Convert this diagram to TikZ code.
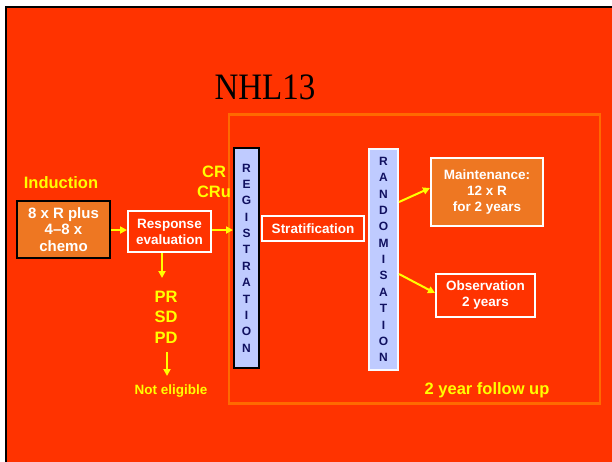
\documentclass[tikz,border=0pt]{standalone}
\usepackage{fontspec}
\setmainfont{Liberation Sans}
\newfontfamily\titlefont{Liberation Serif}
\usetikzlibrary{arrows.meta}
\definecolor{bgred}{HTML}{FF3300}
\definecolor{fuorange}{HTML}{FF6A00}
\definecolor{boxorange}{HTML}{EE7722}
\definecolor{yel}{HTML}{FFFF00}
\definecolor{barblue}{HTML}{BFCBFF}
\definecolor{navy}{HTML}{101060}
\tikzset{
  wbox/.style={draw=white, line width=2pt, text=white, font=\bfseries\fontsize{13.5}{16}\selectfont, align=center, inner sep=0pt},
  ylabel/.style={text=yel, font=\bfseries\fontsize{16.5}{20.5}\selectfont, align=center, inner sep=0pt},
  yarrow/.style={draw=yel, line width=2pt, -{Triangle[length=7pt,width=7pt]}},
  bar/.style={fill=barblue, line width=2pt, text=navy, font=\bfseries\fontsize{12}{16.35}\selectfont, align=center, inner sep=0pt, minimum width=25pt},
}
\begin{document}
\begin{tikzpicture}[x=1pt,y=-1pt]
\useasboundingbox (0,0) rectangle (612,461);
\clip (0,0) rectangle (612,461);
\fill[white] (0,0) rectangle (612,461);
\fill[bgred] (6,7) rectangle (620,470);
\draw[black, line width=2pt] (6,470) -- (6,7) -- (620,7);
% title
\node (title) at (265,87) {\titlefont\fontsize{33}{36}\selectfont\scalebox{1}[1.13]{NHL13}};
% follow-up box
\node[draw=fuorange, line width=2.5pt, minimum width=371pt, minimum height=289pt, inner sep=0pt] (fu) at (414.5,259) {};
\node[ylabel] (fulabel) at (487,390) {2 year follow up};
% induction
\node[ylabel] (indlabel) at (61,183) {Induction};
\node[draw=black, fill=boxorange, line width=2pt, text=white, font=\bfseries\fontsize{15}{16.8}\selectfont, align=center, minimum width=93pt, minimum height=57pt, inner sep=0pt] (ind) at (63.5,229.5) {8 x R plus\\4--8 x\\chemo};
% response evaluation
\node[wbox, minimum width=83pt, minimum height=41pt] (resp) at (169.5,231.5) {Response\\evaluation};
% CR CRu
\node[ylabel] (cr) at (214,182) {CR\\CRu};
% registration bar
\node[bar, draw=black, minimum height=220pt] (reg) at (246.5,258) {R\\E\\G\\I\\S\\T\\R\\A\\T\\I\\O\\N};
% stratification
\node[wbox, minimum width=102pt, minimum height=25pt] (strat) at (313,228.5) {Stratification};
% randomisation bar
\node[bar, draw=white!90!barblue, minimum width=29pt, minimum height=221pt] (rand) at (383.5,259.5) {R\\A\\N\\D\\O\\M\\I\\S\\A\\T\\I\\O\\N};
% maintenance
\node[wbox, fill=boxorange, minimum width=112pt, minimum height=68pt] (maint) at (487,192) {Maintenance:\\12 x R\\for 2 years};
% observation
\node[wbox, minimum width=99pt, minimum height=43pt] (obs) at (485.5,295.5) {Observation\\2 years};
% PR SD PD
\node[ylabel] (prsd) at (166,317) {PR\\SD\\PD};
\node[ylabel, font=\bfseries\fontsize{13.5}{16}\selectfont] (ne) at (171,391) {Not eligible};
% arrows
\draw[yarrow] (ind.east |- 0,230) -- (resp.west |- 0,230);
\draw[yarrow] (resp.east |- 0,230) -- (reg.west |- 0,230);
\draw[yarrow] (resp.south -| 162,0) -- (162,278);
\draw[yarrow] (167,352) -- (167,376);
\draw[yarrow] (rand.east |- 0,202) -- (maint.west |- 0,188);
\draw[yarrow] (rand.east |- 0,274) -- (obs.west |- 0,293);
\end{tikzpicture}
\end{document}
